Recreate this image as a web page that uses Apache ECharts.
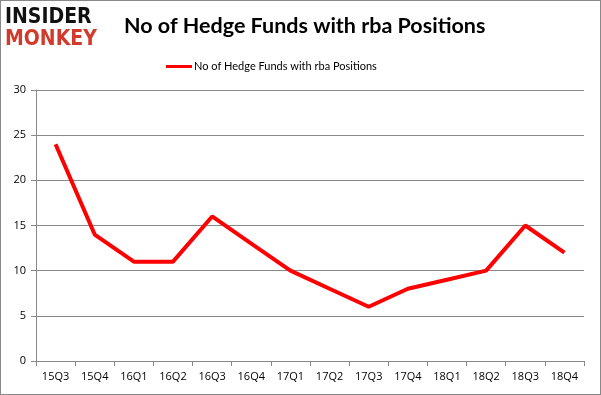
<!DOCTYPE html>
<html><head><meta charset="utf-8">
<script src="https://cdn.jsdelivr.net/npm/echarts@6/dist/echarts.min.js"></script>
<style>html,body{margin:0;padding:0;background:#fff}#c{width:601px;height:395px;box-sizing:border-box;border:1px solid #888}</style>
</head><body><div id="c"></div>
<script>
var categories = ['15Q3','15Q4','16Q1','16Q2','16Q3','16Q4','17Q1','17Q2','17Q3','17Q4','18Q1','18Q2','18Q3','18Q4'];
var values = [24,14,11,11,16,13,10,8,6,8,9,10,15,12];
var seriesName = 'No of Hedge Funds with rba Positions';
var chart = echarts.init(document.getElementById('c'));
chart.setOption({
  animation:false,
  title:{text:'No of Hedge Funds with rba Positions',left:118,top:9,textStyle:{fontFamily:'Lato',fontSize:21.5,fontWeight:'bold',color:'#000'}},
  graphic:[
    {type:'text',left:4,top:6,style:{text:'INSIDER',font:'900 21px "DejaVu Sans Condensed", sans-serif',fill:'#111'}},
    {type:'text',left:4,top:28,style:{text:'MONKEY',font:'900 21px "DejaVu Sans Condensed", sans-serif',fill:'#d23b2b'}}
  ],
  legend:{top:55,left:160,itemWidth:26,itemHeight:3,itemGap:2,icon:'rect',textStyle:{fontFamily:'Lato',fontSize:11,color:'#000',padding:[0,0,0,-3]},data:[seriesName]},
  grid:{left:35,right:16,top:89,bottom:33},
  xAxis:{type:'category',data:categories,boundaryGap:true,
    axisLine:{lineStyle:{color:'#888'}},axisTick:{show:true,length:5,lineStyle:{color:'#888'}},
    axisLabel:{color:'#000',fontFamily:'Open Sans',fontSize:11,margin:10}},
  yAxis:{type:'value',min:0,max:30,interval:5,
    axisLine:{show:true,lineStyle:{color:'#888'}},axisTick:{show:true,length:5,lineStyle:{color:'#888'}},
    splitLine:{lineStyle:{color:'#888'}},
    axisLabel:{color:'#000',fontFamily:'Open Sans',fontSize:11,margin:10}},
  series:[{name:seriesName,type:'line',data:values,symbol:'none',lineStyle:{color:'#ff0000',width:4},itemStyle:{color:'#ff0000'}}]
});
</script></body></html>
